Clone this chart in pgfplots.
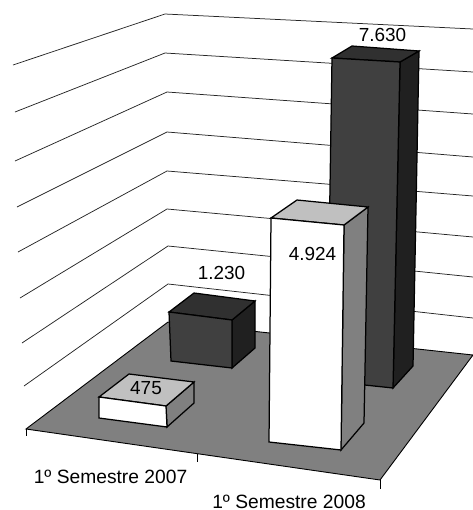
\documentclass[border=0pt]{standalone}
\usepackage{fontspec}
\setmainfont{Liberation Sans}
\usepackage{pgfplots}
\pgfplotsset{compat=1.18}
\definecolor{floorgray}{HTML}{808080}
\definecolor{darkfront}{HTML}{404040}
\definecolor{darktop}{HTML}{303030}
\definecolor{darkside}{HTML}{202020}
\definecolor{lighttop}{HTML}{C0C0C0}
\newcommand{\lbl}{\fontsize{19.3}{21}\selectfont}
\newcommand{\val}{\fontsize{19}{21}\selectfont}
\begin{document}
\begin{tikzpicture}
\path[use as bounding box] (0,0) rectangle (473bp,510bp);
\begin{axis}[
    at={(0,0)}, anchor=south west,
    scale only axis, width=473bp, height=510bp,
    xmin=0, xmax=473, ymin=0, ymax=510,
    y dir=reverse,
    axis lines=none,
    clip=false,
    every axis plot/.append style={mark=none, line join=miter},
    grid3d/.style={draw=black!85, line width=0.75bp},
    box/.style={draw=black, line width=1.25bp},
]
% gridlines on the two walls
\addplot[grid3d] coordinates {(13,65) (165,14) (473,29)};
\addplot[grid3d] coordinates {(15,112) (165,53) (473,72)};
\addplot[grid3d] coordinates {(15,161) (167,92) (473,114)};
\addplot[grid3d] coordinates {(17,207) (167,132) (473,157)};
\addplot[grid3d] coordinates {(18,252) (167,171) (473,196)};
\addplot[grid3d] coordinates {(20,298) (167,209) (473,237)};
\addplot[grid3d] coordinates {(22,343) (168,246) (473,277)};
\addplot[grid3d] coordinates {(24,386) (168,284) (473,318)};
% floor
\addplot[fill=floorgray, draw=black, line width=0.9bp] coordinates {(26,429) (168,322) (473,355) (380,480)} -- cycle;
% ticks
\addplot[draw=black, line width=0.7bp] coordinates {(26,429) (26,436)};
\addplot[draw=black, line width=0.7bp] coordinates {(197,454) (197,462)};
\addplot[draw=black, line width=0.7bp] coordinates {(380,480) (380,489)};
% 2007, 1.230
\addplot[box, fill=darkside] coordinates {(232,320) (255,301) (255,348) (232,368)} -- cycle;
\addplot[box, fill=darktop] coordinates {(169,312) (194,293) (255,301) (232,320)} -- cycle;
\addplot[box, fill=darkfront] coordinates {(169,312) (232,320) (232,368) (171,361)} -- cycle;
% 2007, 475
\addplot[box, fill=floorgray] coordinates {(166,406) (194,382) (194,403) (167,427)} -- cycle;
\addplot[box, fill=lighttop] coordinates {(99,397) (129,374) (194,382) (166,406)} -- cycle;
\addplot[box, fill=white] coordinates {(99,397) (166,406) (167,427) (99,418)} -- cycle;
% 2008, 7.630
\addplot[box, fill=darkside] coordinates {(400,62) (419,51) (413,366) (393,388)} -- cycle;
\addplot[box, fill=darktop] coordinates {(332,58) (352,46) (419,51) (400,62)} -- cycle;
\addplot[box, fill=darkfront] coordinates {(332,58) (400,62) (393,388) (327,381)} -- cycle;
% 2008, 4.924
\addplot[box, fill=floorgray] coordinates {(344,225) (368,207) (364,423) (341,450)} -- cycle;
\addplot[box, fill=lighttop] coordinates {(271,218) (297,200) (368,207) (344,225)} -- cycle;
\addplot[box, fill=white] coordinates {(271,218) (344,225) (341,450) (269,442)} -- cycle;
% labels
\node[font=\val, inner sep=0pt] at (axis cs:382.5,35) {7.630};
\node[font=\val, inner sep=0pt] at (axis cs:221.5,273) {1.230};
\node[font=\val, inner sep=0pt] at (axis cs:312.5,254) {4.924};
\node[font=\val, inner sep=0pt] at (axis cs:146,388) {475};
\node[font=\lbl, inner sep=0pt] at (axis cs:110.5,477) {1º Semestre 2007};
\node[font=\lbl, inner sep=0pt] at (axis cs:289,501.5) {1º Semestre 2008};
\end{axis}
\end{tikzpicture}
\end{document}
